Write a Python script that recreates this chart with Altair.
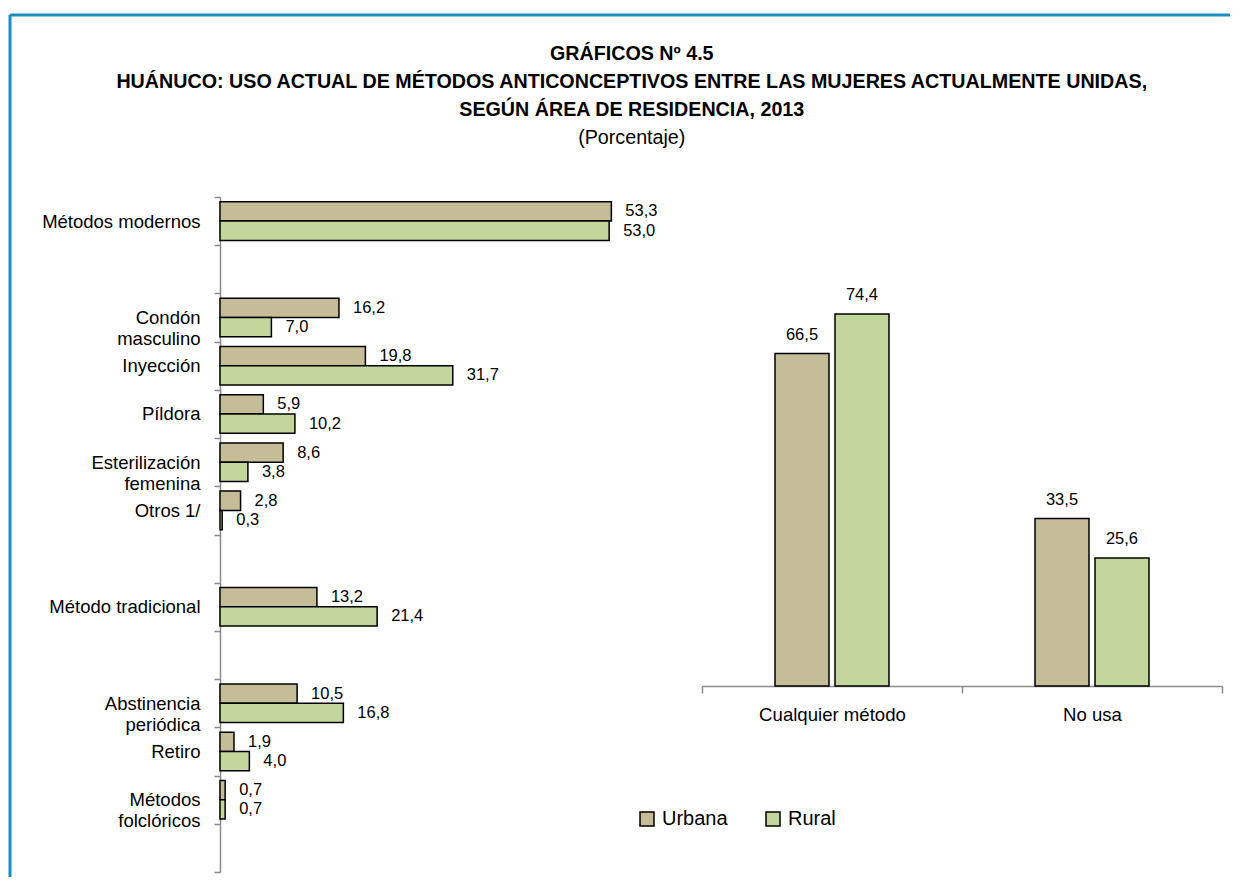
import altair as alt
import pandas as pd

FONT = "Liberation Sans, Arial, sans-serif"
NB = "\u00a0"

series = ["Urbana", "Rural"]
colors = ["#c4bd97", "#c3d69b"]

# Left panel categories (blank strings are empty rows)
left_domain = [
    "Métodos modernos", " ",
    "Condón" + NB * 2 + "|masculino", "Inyección", "Píldora",
    "Esterilización|femenina" + NB * 3, "Otros 1/", "  ",
    "Método tradicional", "   ",
    "Abstinencia|periódica" + NB * 2, "Retiro", "Métodos" + NB + "|folclóricos", "    ",
]
left_methods = [
    "Métodos modernos", "Condón" + NB * 2 + "|masculino", "Inyección", "Píldora",
    "Esterilización|femenina" + NB * 3, "Otros 1/", "Método tradicional",
    "Abstinencia|periódica" + NB * 2, "Retiro", "Métodos" + NB + "|folclóricos",
]
left_urbana = [53.3, 16.2, 19.8, 5.9, 8.6, 2.8, 13.2, 10.5, 1.9, 0.7]
left_rural = [53.0, 7.0, 31.7, 10.2, 3.8, 0.3, 21.4, 16.8, 4.0, 0.7]

right_cats = ["Cualquier método", "No usa"]
right_urbana = [66.5, 33.5]
right_rural = [74.4, 25.6]

title_lines = [
    "GRÁFICOS Nº 4.5",
    "HUÁNUCO: USO ACTUAL DE MÉTODOS ANTICONCEPTIVOS ENTRE LAS MUJERES ACTUALMENTE UNIDAS,",
    "SEGÚN ÁREA DE RESIDENCIA, 2013",
]
subtitle = "(Porcentaje)"


def fmt(v):
    return f"{v:.1f}".replace(".", ",")


rows = []
for c, u, r in zip(left_methods, left_urbana, left_rural):
    rows.append({"cat": c, "serie": "Urbana", "val": u, "lab": fmt(u)})
    rows.append({"cat": c, "serie": "Rural", "val": r, "lab": fmt(r)})
dfl = pd.DataFrame(rows)

rows = []
for c, u, r in zip(right_cats, right_urbana, right_rural):
    rows.append({"cat": c, "serie": "Urbana", "val": u, "lab": fmt(u)})
    rows.append({"cat": c, "serie": "Rural", "val": r, "lab": fmt(r)})
dfr = pd.DataFrame(rows)

AXIS_GREY = "#8a8a8a"

legend = alt.Legend(
    title=None, orient="none", legendX=417, legendY=612, direction="horizontal",
    symbolType="square", symbolSize=196, symbolStrokeColor="black", symbolStrokeWidth=1.5,
    labelFont=FONT, labelFontSize=20, labelColor="black", columnPadding=35,
    labelOffset=5, padding=0,
)
color = alt.Color("serie:N", scale=alt.Scale(domain=series, range=colors), legend=legend)

# ---- left panel
yl = alt.Y(
    "cat:N",
    scale=alt.Scale(domain=left_domain, paddingInner=0, paddingOuter=0),
    axis=alt.Axis(
        title=None, labelExpr="split(datum.label, '|')", tickBand="extent",
        domainColor=AXIS_GREY, tickColor=AXIS_GREY, domainWidth=1.5, tickWidth=1.5, tickSize=6,
        labelFont=FONT, labelFontSize=18.5, labelColor="black", labelPadding=14,
        labelLineHeight=21, minExtent=212, maxExtent=212, grid=False, labelLimit=400,
    ),
)
yoff = alt.YOffset("serie:N", scale=alt.Scale(domain=series, paddingInner=0, paddingOuter=0.25))
xl = alt.X("val:Q", scale=alt.Scale(domain=[0, 57.2]), axis=None)

left_bars = alt.Chart(dfl).mark_bar(stroke="black", strokeWidth=1.5).encode(
    y=yl, yOffset=yoff, x=xl, color=color
)
left_text = alt.Chart(dfl).mark_text(
    align="left", baseline="middle", dx=14, font=FONT, fontSize=16.5, color="black"
).encode(y=yl, yOffset=yoff, x=xl, text="lab:N")

frame_df = pd.DataFrame({"k": [0]})
frame_top = alt.Chart(frame_df).mark_rule(color="#1a8dc3", strokeWidth=3).encode(
    x=alt.value(-210), x2=alt.value(1010), y=alt.value(-182)
)
frame_left = alt.Chart(frame_df).mark_rule(color="#1a8dc3", strokeWidth=3).encode(
    x=alt.value(-210), y=alt.value(-182), y2=alt.value(680)
)

left = alt.layer(frame_top, frame_left, left_bars, left_text).properties(width=420, height=675)

# ---- right panel
xr = alt.X(
    "cat:N",
    scale=alt.Scale(domain=right_cats, paddingInner=0, paddingOuter=0),
    axis=alt.Axis(
        title=None, labelAngle=0, tickBand="extent",
        domainColor=AXIS_GREY, tickColor=AXIS_GREY, domainWidth=1.5, tickWidth=1.5, tickSize=7,
        labelFont=FONT, labelFontSize=18.6, labelColor="black", labelPadding=12, grid=False,
    ),
)
xoff = alt.XOffset(
    "serie:N",
    scale=alt.Scale(domain=["d1", "Urbana", "Rural", "d2"], paddingInner=0.1, paddingOuter=0.2167),
)
yr = alt.Y("val:Q", scale=alt.Scale(domain=[0, 97.8]), axis=None)

right_bars = alt.Chart(dfr).mark_bar(stroke="black", strokeWidth=1.5).encode(
    x=xr, xOffset=xoff, y=yr, color=color
)
right_text = alt.Chart(dfr).mark_text(
    align="center", baseline="alphabetic", dy=-14, font=FONT, fontSize=16.5, color="black"
).encode(x=xr, xOffset=xoff, y=yr, text="lab:N")

right = alt.layer(right_bars, right_text).properties(width=520, height=489)

chart = (
    alt.hconcat(left, right, spacing=62, bounds="flush")
    .properties(
        title=alt.TitleParams(
            text=title_lines, subtitle=subtitle, anchor="middle", frame="bounds",
            dx=12, offset=-134, font=FONT, fontSize=19.7, fontWeight="bold", lineHeight=28,
            color="black", subtitleFont=FONT, subtitleFontSize=19.7, subtitleColor="black",
            subtitlePadding=8,
        ),
        padding={"left": 0, "top": 5, "right": 0, "bottom": 0},
    )
    .configure_view(stroke=None)
)

chart.save("out.html", embed_options={"renderer": "svg", "actions": False})
